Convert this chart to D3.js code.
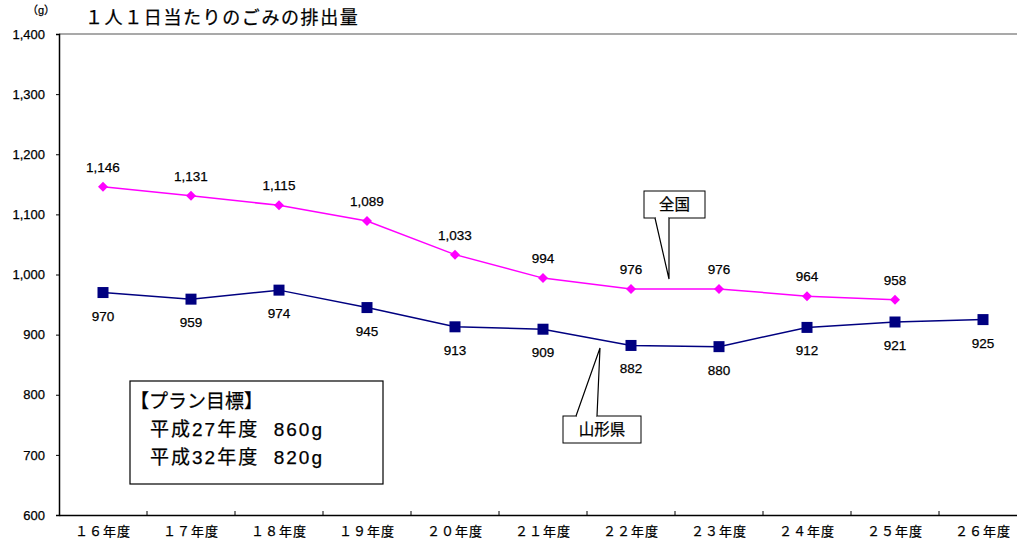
<!DOCTYPE html>
<html>
<head>
<meta charset="utf-8">
<script src="https://cdn.jsdelivr.net/npm/d3@7"></script>
<style>
  body { margin: 0; background: #fff; }
  text { font-family: "Liberation Sans", "Noto Sans CJK JP", sans-serif; fill: #000; stroke: #000; stroke-width: 0.25px; }
</style>
</head>
<body>
<svg id="chart" width="1017" height="544"></svg>
<script>
// data
var years = ["１６年度","１７年度","１８年度","１９年度","２０年度","２１年度","２２年度","２３年度","２４年度","２５年度","２６年度"];
var zenkoku = [1146, 1131, 1115, 1089, 1033, 994, 976, 976, 964, 958];
var yamagata = [970, 959, 974, 945, 913, 909, 882, 880, 912, 921, 925];
var yTicks = [600, 700, 800, 900, 1000, 1100, 1200, 1300, 1400];
var planLines = ["【プラン目標】", "平成27年度  860g", "平成32年度  820g"];

var svg = d3.select("#chart");

// plot runs past the right edge like the original
var x = d3.scaleBand().domain(years).range([59, 1027]);
var y = d3.scaleLinear().domain([600, 1400]).range([515, 34]);
var fmt = d3.format(",");
var cx = function (i) { return x(years[i]) + x.bandwidth() / 2; };

// frame
svg.append("line").attr("x1", 59).attr("x2", 1017).attr("y1", 34).attr("y2", 34)
   .attr("stroke", "#555").attr("stroke-width", 1.2);

var yAxis = svg.append("g").attr("transform", "translate(59,0)")
   .call(d3.axisLeft(y).tickValues(yTicks).tickSize(3).tickFormat(fmt));
yAxis.select(".domain").attr("stroke", "#000").attr("stroke-width", 1.5);
yAxis.selectAll("text").attr("x", -14).attr("font-size", 13);

var xAxis = svg.append("g").attr("transform", "translate(0,515)")
   .call(d3.axisBottom(x).tickSize(0));
xAxis.select(".domain").attr("stroke", "#000").attr("stroke-width", 1.5);
xAxis.selectAll("text").attr("y", 12).attr("font-size", 13).attr("letter-spacing", 1);
// tick marks between categories
xAxis.selectAll(".sep").data(years.slice(1)).enter().append("line")
   .attr("x1", function (d) { return x(d); }).attr("x2", function (d) { return x(d); })
   .attr("y1", -4).attr("y2", 0).attr("stroke", "#000");

// title
svg.append("text").attr("x", 27).attr("y", 14).attr("font-size", 11).text("（g）");
svg.append("text").attr("x", 85).attr("y", 24).attr("font-size", 18).attr("letter-spacing", 1.6)
   .text("１人１日当たりのごみの排出量");

var line = d3.line().x(function (d, i) { return cx(i); }).y(function (d) { return y(d); });

// 全国
svg.append("path").datum(zenkoku).attr("d", line)
   .attr("fill", "none").attr("stroke", "#ff00ff").attr("stroke-width", 1.5);
svg.selectAll(".dia").data(zenkoku).enter().append("path")
   .attr("d", d3.symbol().type(d3.symbolSquare).size(50))
   .attr("transform", function (d, i) { return "translate(" + cx(i) + "," + y(d) + ") rotate(45)"; })
   .attr("fill", "#ff00ff");
svg.selectAll(".zl").data(zenkoku).enter().append("text")
   .attr("x", function (d, i) { return cx(i); }).attr("y", function (d) { return y(d) - 15; })
   .attr("text-anchor", "middle").attr("font-size", 13.5).text(fmt);

// 山形県
svg.append("path").datum(yamagata).attr("d", line)
   .attr("fill", "none").attr("stroke", "#000080").attr("stroke-width", 1.5);
svg.selectAll(".sq").data(yamagata).enter().append("rect")
   .attr("x", function (d, i) { return cx(i) - 5.5; }).attr("y", function (d) { return y(d) - 5.5; })
   .attr("width", 11).attr("height", 11).attr("fill", "#000080");
svg.selectAll(".yl").data(yamagata).enter().append("text")
   .attr("x", function (d, i) { return cx(i); }).attr("y", function (d) { return y(d) + 28; })
   .attr("text-anchor", "middle").attr("font-size", 13.5).text(fmt);

// callouts
function callout(label, bx, by, bw, bh, tip, base) {
  var g = svg.append("g");
  g.append("rect").attr("x", bx).attr("y", by).attr("width", bw).attr("height", bh)
   .attr("fill", "#fff").attr("stroke", "#000").attr("stroke-width", 1);
  g.append("path").attr("d", d3.line()([base[0], tip, base[1]]))
   .attr("fill", "#fff").attr("stroke", "#000").attr("stroke-width", 1.2);
  g.append("line").attr("x1", base[0][0] + 1).attr("x2", base[1][0] - 1)
   .attr("y1", base[0][1]).attr("y2", base[1][1]).attr("stroke", "#fff").attr("stroke-width", 2);
  g.append("text").attr("x", bx + bw / 2).attr("y", by + bh / 2 + 5.5)
   .attr("text-anchor", "middle").attr("font-size", 15.5).text(label);
}
callout("全国", 644, 191, 61, 27, [669, 279], [[655, 218], [669, 218]]);
callout("山形県", 563, 416, 78, 27, [600, 348], [[576, 416], [597, 416]]);

// plan box
svg.append("rect").attr("x", 130).attr("y", 381).attr("width", 253).attr("height", 103)
   .attr("fill", "#fff").attr("stroke", "#000").attr("stroke-width", 1.2);
svg.selectAll(".plan").data(planLines).enter().append("text")
   .attr("x", function (d, i) { return i === 0 ? 130 : 150; })
   .attr("y", function (d, i) { return 408 + i * 28; })
   .attr("font-size", 19).attr("letter-spacing", function (d, i) { return i === 0 ? 0 : 2; })
   .style("white-space", "pre").text(function (d) { return d; });
</script>
</body>
</html>
